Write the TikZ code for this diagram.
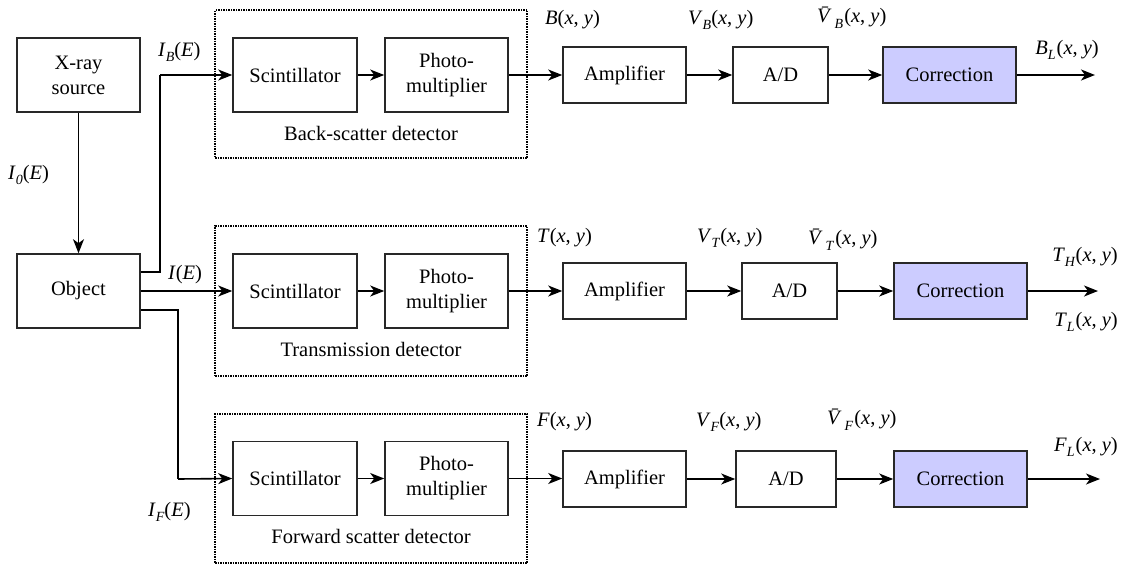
\documentclass[tikz,border=0pt]{standalone}
\usepackage{fontspec}
\IfFontExistsTF{LiberationSerif-Regular.ttf}{%
  \setmainfont{LiberationSerif-Regular.ttf}[ItalicFont=LiberationSerif-Italic.ttf,BoldFont=LiberationSerif-Bold.ttf]}{%
  \setmainfont{Liberation Serif}}
\usetikzlibrary{arrows.meta}
\definecolor{corrfill}{RGB}{204,204,255}
\definecolor{edge}{RGB}{40,40,40}
\newcommand{\mysub}[1]{\raisebox{-0.28em}{\fontsize{14}{14}\selectfont\textit{#1}}}
\newcommand{\xy}{(\textit{x}, \textit{y})}
\newcommand{\vbar}{\textit{\=V}}
\begin{document}
\begin{tikzpicture}[x=1pt,y=-1pt,
  font=\rmfamily\fontsize{20.5}{25}\selectfont,
  blk/.style={draw=edge,line width=1.6pt,minimum height=56pt,inner sep=0pt,align=center},
  tall/.style={blk,minimum height=74pt},
  corr/.style={blk,fill=corrfill,minimum width=133pt},
  dbox/.style={draw=black,line width=1.6pt,dash pattern=on 1.5pt off 1pt,inner sep=0pt},
  arr/.style={draw=black,line width=1.6pt,-{Stealth[length=14pt,width=11pt,inset=4pt]}},
  ln/.style={draw=black,line width=1.6pt},
  lab/.style={inner sep=0pt}]
\useasboundingbox (0,0) rectangle (1123,565);
% dotted detector boxes
\node[dbox,minimum width=312pt,minimum height=148pt] (db1) at (371,84) {};
\node[dbox,minimum width=312pt,minimum height=150pt] (db2) at (371,301) {};
\node[dbox,minimum width=312pt,minimum height=149pt] (db3) at (371,488.5) {};
% left blocks
\node[tall,minimum width=123pt] (xray) at (78.5,75) {X-ray\\source};
\node[tall,minimum width=123pt] (obj) at (78.5,291) {Object};
% detectors
\node[tall,minimum width=124pt] (sc1) at (295,75) {Scintillator};
\node[tall,minimum width=123pt] (pm1) at (446.5,75) {Photo-\\multiplier};
\node[tall,minimum width=124pt] (sc2) at (295,291) {Scintillator};
\node[tall,minimum width=123pt] (pm2) at (446.5,291) {Photo-\\multiplier};
\node[tall,minimum width=124pt] (sc3) at (295,478.5) {Scintillator};
\node[tall,minimum width=123pt] (pm3) at (446.5,478.5) {Photo-\\multiplier};
\node[lab] (dl1) at (371,133) {Back-scatter detector};
\node[lab] (dl2) at (371,349) {Transmission detector};
\node[lab] (dl3) at (371,536) {Forward scatter detector};
% processing chains
\node[blk,minimum width=123pt] (amp1) at (624.5,75) {Amplifier};
\node[blk,minimum width=95pt] (ad1) at (780.5,75) {A/D};
\node[corr] (cor1) at (949.5,75) {Correction};
\node[blk,minimum width=123pt] (amp2) at (624.5,291) {Amplifier};
\node[blk,minimum width=95pt] (ad2) at (789.5,291) {A/D};
\node[corr] (cor2) at (960.5,291) {Correction};
\node[blk,minimum width=123pt] (amp3) at (624.5,479) {Amplifier};
\node[blk,minimum width=100pt] (ad3) at (786,479) {A/D};
\node[corr] (cor3) at (960.5,479) {Correction};
\coordinate (o1) at (1095,75);
\coordinate (o2) at (1098,291);
\coordinate (o3) at (1100,479);
% connectors
\draw[arr] (xray) -- (obj);
\draw[ln] (obj.east |- 0,272) -| (160,75) coordinate (b1);
\draw[arr] (b1) -- (sc1);
\draw[arr] (obj) -- (sc2);
\draw[ln] (obj.east |- 0,310) -| (178,479) coordinate (b3);
\draw[arr] (b3) -- (sc3.west);
\foreach \i in {1,2,3}{
  \draw[arr] (sc\i) -- (pm\i);
  \draw[arr] (pm\i.east) -- (pm\i.east -| amp\i.west);
  \draw[arr] (amp\i) -- (ad\i);
  \draw[arr] (ad\i) -- (cor\i);
  \draw[arr] (cor\i) -- (o\i);
}
% labels
\node[lab,anchor=west] (lI0) at (8,175) {\textit{I}\mysub{0}(\textit{E})};
\node[lab,anchor=west] (lIB) at (158,52) {\textit{I}\mysub{B}(\textit{E})};
\node[lab,anchor=west] (lI) at (168,275) {\textit{I}(\textit{E})};
\node[lab,anchor=west] (lIF) at (148,512) {\textit{I}\mysub{F}(\textit{E})};
\node[lab,anchor=west] (lB) at (545,20) {\textit{B}\xy};
\node[lab,anchor=west] (lVB) at (688,20) {\textit{V}\mysub{B}\xy};
\node[lab,anchor=west] (lVbB) at (817,18) {\vbar\mysub{B}\kern1pt\xy};
\node[lab,anchor=east] (lBL) at (1099,50) {\textit{B}\mysub{L}\kern1pt\xy};
\node[lab,anchor=west] (lT) at (537,238) {\textit{T}\xy};
\node[lab,anchor=west] (lVT) at (697,238) {\textit{V}\mysub{T}\xy};
\node[lab,anchor=west] (lVbT) at (808,240) {\vbar\mysub{T}\kern1pt\xy};
\node[lab,anchor=east] (lTH) at (1118,257) {\textit{T}\mysub{H}\xy};
\node[lab,anchor=east] (lTL) at (1118,322) {\textit{T}\mysub{L}\kern1pt\xy};
\node[lab,anchor=west] (lF) at (537,422) {\textit{F}\xy};
\node[lab,anchor=west] (lVF) at (696,422) {\textit{V}\mysub{F}\xy};
\node[lab,anchor=west] (lVbF) at (827,420) {\vbar\mysub{F}\kern1pt\xy};
\node[lab,anchor=east] (lFL) at (1118,447) {\textit{F}\mysub{L}\kern1pt\xy};
\end{tikzpicture}
\end{document}
